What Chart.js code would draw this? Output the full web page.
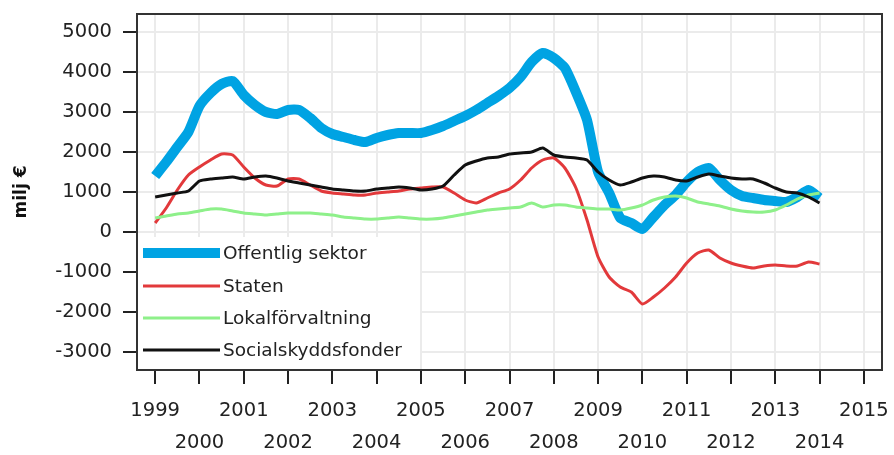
<!DOCTYPE html>
<html>
<head>
<meta charset="utf-8">
<script src="https://cdn.jsdelivr.net/npm/chart.js@4/dist/chart.umd.min.js"></script>
<style>
html,body{margin:0;padding:0;background:#fff;}
#wrap{width:894px;height:455px;}
</style>
</head>
<body>
<div id="wrap"><canvas id="c" width="894" height="455"></canvas></div>
<script>
// Quarterly observations 1999Q1 .. 2014Q1
const firstYear = 1999;
const xTickYears = [1999,2000,2001,2002,2003,2004,2005,2006,2007,2008,2009,2010,2011,2012,2013,2014,2015];
const yTickValues = [-3000,-2000,-1000,0,1000,2000,3000,4000,5000];

const seriesNames = ['Offentlig sektor','Staten','Lokalförvaltning','Socialskyddsfonder'];

const offentligSektor = [
  1400,1750,2125,2500,
  3150,3475,3700,3775,
  3425,3175,3000,2950,
  3050,3050,2850,2600,
  2450,2375,2300,2250,
  2350,2425,2475,2475,
  2475,2550,2650,2775,
  2900,3050,3225,3400,
  3600,3875,4250,4475,
  4350,4100,3500,2800,
  1500,975,350,225,
  75,375,675,925,
  1250,1500,1600,1300,
  1050,900,850,800,
  775,750,875,1050,
  850
];
const staten = [
  225,600,1050,1425,
  1625,1800,1950,1925,
  1625,1350,1175,1150,
  1325,1325,1175,1025,
  975,950,925,925,
  975,1000,1025,1075,
  1100,1125,1125,975,
  800,725,850,975,
  1075,1300,1600,1800,
  1850,1600,1100,300,
  -625,-1125,-1375,-1500,
  -1800,-1625,-1400,-1125,
  -775,-525,-450,-650,
  -775,-850,-900,-850,
  -825,-850,-850,-750,
  -800
];
const lokalforvaltning = [
  350,400,450,475,
  525,575,575,525,
  475,450,425,450,
  475,475,475,450,
  425,375,350,325,
  325,350,375,350,
  325,325,350,400,
  450,500,550,575,
  600,625,725,625,
  675,675,625,600,
  575,575,550,600,
  675,800,875,900,
  850,750,700,650,
  575,525,500,500,
  550,675,825,925,
  975
];
const socialskyddsfonder = [
  875,925,975,1025,
  1275,1325,1350,1375,
  1325,1375,1400,1350,
  1275,1225,1175,1125,
  1075,1050,1025,1025,
  1075,1100,1125,1100,
  1050,1075,1150,1425,
  1675,1775,1850,1875,
  1950,1975,2000,2100,
  1925,1875,1850,1800,
  1500,1300,1175,1250,
  1350,1400,1375,1300,
  1275,1375,1450,1400,
  1350,1325,1325,1225,
  1100,1000,975,875,
  725
];

const colors = ['#00a3e3','#e2393b','#8ef08a','#111111'];
const widths = [10,3,3,3];

function toPoints(arr){ return arr.map((v,i)=>({x: firstYear + i*0.25, y: v})); }

const FONT = 'DejaVu Sans';

const datasets = [offentligSektor, staten, lokalforvaltning, socialskyddsfonder].map((arr,i)=>({
  label: seriesNames[i],
  data: toPoints(arr),
  borderColor: colors[i],
  backgroundColor: colors[i],
  borderWidth: widths[i],
  pointRadius: 0,
  tension: 0.2,
  borderJoinStyle: 'round',
  borderCapStyle: 'butt',
  order: 3 - i
}));

const frameLegend = {
  id: 'frameLegend',
  afterDatasetsDraw(chart){
    const ctx = chart.ctx, a = chart.chartArea;
    ctx.save();
    ctx.fillStyle = '#fff';
    ctx.fillRect(a.left + 1, 237, 420 - a.left - 1, a.bottom - 237 - 1);
    const rows = [253, 286, 318, 350];
    chart.data.datasets.forEach((ds, i) => {
      ctx.strokeStyle = ds.borderColor;
      ctx.lineWidth = ds.borderWidth;
      ctx.lineCap = 'butt';
      ctx.beginPath();
      ctx.moveTo(143, rows[i]);
      ctx.lineTo(220, rows[i]);
      ctx.stroke();
      ctx.fillStyle = '#222';
      ctx.font = '18.5px "' + FONT + '"';
      ctx.textBaseline = 'middle';
      ctx.textAlign = 'left';
      ctx.fillText(ds.label, 223, rows[i] + 1);
    });
    ctx.strokeStyle = '#333';
    ctx.lineWidth = 2;
    ctx.strokeRect(a.left, a.top, a.right - a.left, a.bottom - a.top);
    ctx.restore();
  }
};

new Chart(document.getElementById('c'), {
  type: 'line',
  data: { datasets },
  options: {
    responsive: false,
    animation: false,
    layout: { padding: { top: 14, right: 12, left: 0, bottom: 0 } },
    plugins: { legend: { display: false }, tooltip: { enabled: false } },
    scales: {
      x: {
        type: 'linear',
        min: 1998.59,
        max: 2015.41,
        afterBuildTicks(scale){ scale.ticks = xTickYears.map(v=>({value:v})); },
        afterFit(scale){ scale.height = 85; scale.paddingLeft = 0; scale.paddingRight = 0; },
        border: { display: false },
        grid: { color: '#ebebeb', lineWidth: 2, tickColor: '#222', tickWidth: 2, tickLength: 14 },
        ticks: {
          color: '#222',
          font: { family: FONT, size: 19.5, lineHeight: 1.65 },
          padding: 11,
          maxRotation: 0,
          autoSkip: false,
          callback(v){ const y = Math.round(v); return (y % 2 === 1) ? [String(y), ''] : ['', String(y)]; }
        }
      },
      y: {
        min: -3450,
        max: 5450,
        afterBuildTicks(scale){ scale.ticks = yTickValues.map(v=>({value:v})); },
        afterFit(scale){ scale.width = 137; scale.paddingTop = 0; scale.paddingBottom = 0; },
        border: { display: false },
        grid: { color: '#ebebeb', lineWidth: 2, tickColor: '#222', tickWidth: 2, tickLength: 14 },
        ticks: {
          color: '#222',
          font: { family: FONT, size: 19.5 },
          padding: 11,
          autoSkip: false,
          callback(v){ return String(v); }
        },
        title: {
          display: true,
          text: 'milj €',
          color: '#111',
          font: { family: FONT, size: 17, weight: 'bold' },
          padding: { top: 11, bottom: 0 }
        }
      }
    }
  },
  plugins: [frameLegend]
});
</script>
</body>
</html>
